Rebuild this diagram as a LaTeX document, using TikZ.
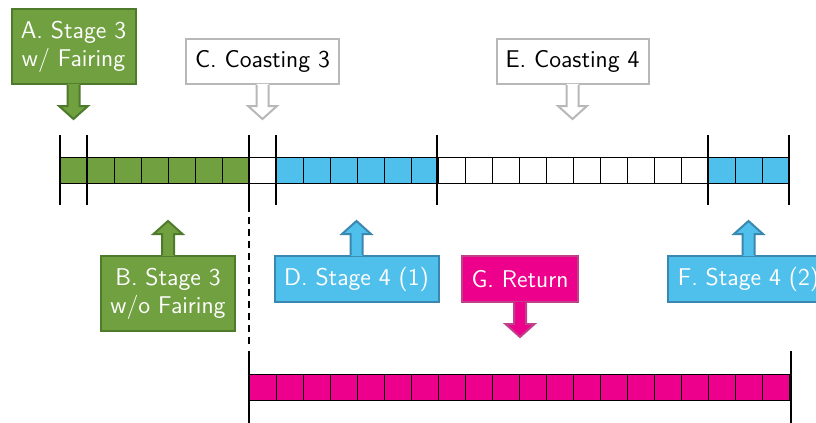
\documentclass[tikz,border=0pt]{standalone}
\usetikzlibrary{calc}
\definecolor{stgreen}{HTML}{70A040}
\definecolor{stgreenline}{HTML}{4E7A2C}
\definecolor{stblue}{HTML}{4FBFEB}
\definecolor{stblueline}{HTML}{3A88B0}
\definecolor{stpink}{HTML}{EC008C}
\definecolor{stpinkline}{HTML}{C0408A}
\definecolor{coastline}{HTML}{B8B8B8}
\newcommand\labelfont{\sffamily\fontsize{12.1}{14}\selectfont}
% arrow pointer under a box: #1 box, #2 tip, #3 fill colour, #4 line colour
\newcommand\pointdown[4]{%
  \fill[#3] ($(#1.south)+(-6,-1.2)$) -- ($(#1.south)+(6,-1.2)$) -- ($(#1.south)+(6,21)$)
    -- ($(#1.south)+(14.5,21)$) -- (#2) -- ($(#1.south)+(-14.5,21)$) -- ($(#1.south)+(-6,21)$) -- cycle;
  \draw[#4, pointer] ($(#1.south)+(-6,0)$) -- ($(#1.south)+(-6,21)$) -- ($(#1.south)+(-14.5,21)$)
    -- (#2) -- ($(#1.south)+(14.5,21)$) -- ($(#1.south)+(6,21)$) -- ($(#1.south)+(6,0)$);}
% arrow pointer above a box
\newcommand\pointup[4]{%
  \fill[#3] ($(#1.north)+(-6,1.2)$) -- ($(#1.north)+(6,1.2)$) -- ($(#1.north)+(6,-21)$)
    -- ($(#1.north)+(14.5,-21)$) -- (#2) -- ($(#1.north)+(-14.5,-21)$) -- ($(#1.north)+(-6,-21)$) -- cycle;
  \draw[#4, pointer] ($(#1.north)+(-6,0)$) -- ($(#1.north)+(-6,-21)$) -- ($(#1.north)+(-14.5,-21)$)
    -- (#2) -- ($(#1.north)+(14.5,-21)$) -- ($(#1.north)+(6,-21)$) -- ($(#1.north)+(6,0)$);}
\tikzset{
  callout/.style={draw, line width=1pt, inner sep=0pt, align=center, font=\labelfont},
  greenbox/.style={callout, fill=stgreen, draw=stgreenline, text=white},
  bluebox/.style={callout, fill=stblue, draw=stblueline, text=white},
  pinkbox/.style={callout, fill=stpink, draw=stpinkline, text=white},
  coastbox/.style={callout, fill=white, draw=coastline, text=black},
  pointer/.style={line width=1pt, line join=miter},
  cell/.style={draw=black, line width=0.5pt},
  tick/.style={draw=black, line width=0.9pt},
}
\begin{document}
\begin{tikzpicture}[x=0.5pt,y=-0.5pt]
\clip (0,0) rectangle (816,423);

% upper time line: 27 slots
\foreach \c [count=\i from 0] in {stgreen,stgreen,stgreen,stgreen,stgreen,stgreen,stgreen,white,
    stblue,stblue,stblue,stblue,stblue,stblue,white,white,white,white,white,white,white,white,white,white,
    stblue,stblue,stblue}
  \draw[cell, fill=\c] ({60+27*\i},157) rectangle ++(27,26);
\foreach \x in {60,87,249,276,437,708,789}
  \draw[tick] (\x,135) -- (\x,205);

% lower time line: 20 slots
\foreach \i in {0,...,19}
  \draw[cell, fill=stpink] ({249+27*\i},374) rectangle ++(27.1,26);
\draw[tick, dash pattern=on 3.5pt off 2.5pt] (249,205) -- (249,348);
\draw[tick] (249,351) -- (249,423);
\draw[tick] (791,351) -- (791,423);

% pointer tips
\coordinate (tipA) at (73.5,119);
\coordinate (tipC) at (262.5,119);
\coordinate (tipE) at (572.5,119);
\coordinate (tipB) at (168,221);
\coordinate (tipD) at (356.5,221);
\coordinate (tipF) at (748.5,221);
\coordinate (tipG) at (520,337);

% labels
\node[greenbox, minimum width=62pt, minimum height=37.5pt] (A) at (73.5,46.5) {A. Stage 3\\w/ Fairing};
\node[coastbox, minimum width=76.5pt, minimum height=22.5pt] (C) at (262.5,61.5) {C. Coasting 3};
\node[coastbox, minimum width=76pt, minimum height=22.5pt] (E) at (572.5,61.5) {E. Coasting 4};
\node[greenbox, minimum width=67pt, minimum height=37.5pt] (B) at (168,293.5) {B. Stage 3\\w/o Fairing};
\node[bluebox, minimum width=82pt, minimum height=23pt] (D) at (356.5,279) {D. Stage 4 (1)};
\node[bluebox, minimum width=80.5pt, minimum height=23pt] (F) at (748.5,279) {F. Stage 4 (2)};
\node[pinkbox, minimum width=58pt, minimum height=23pt] (G) at (520,279) {G. Return};

\pointdown{A}{tipA}{stgreen}{stgreenline}
\pointdown{C}{tipC}{white}{coastline}
\pointdown{E}{tipE}{white}{coastline}
\pointdown{G}{tipG}{stpink}{stpinkline}
\pointup{B}{tipB}{stgreen}{stgreenline}
\pointup{D}{tipD}{stblue}{stblueline}
\pointup{F}{tipF}{stblue}{stblueline}
\end{tikzpicture}
\end{document}
